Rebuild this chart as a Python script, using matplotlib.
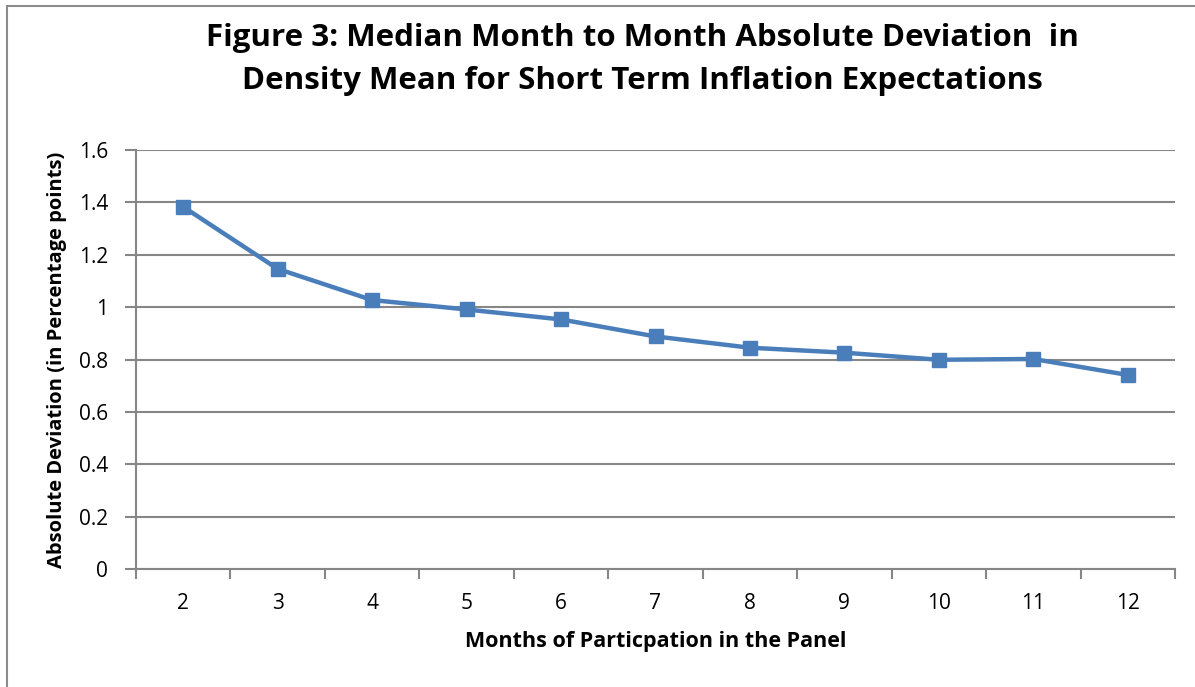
import numpy as np
import matplotlib
matplotlib.use("Agg")
import matplotlib.pyplot as plt
from matplotlib.patches import Rectangle

# data
months = ["2", "3", "4", "5", "6", "7", "8", "9", "10", "11", "12"]
abs_dev = [1.383, 1.146, 1.027, 0.991, 0.953, 0.888, 0.845, 0.826, 0.799, 0.802, 0.741]
y_ticks = [0, 0.2, 0.4, 0.6, 0.8, 1, 1.2, 1.4, 1.6]
y_tick_labels = ["0", "0.2", "0.4", "0.6", "0.8", "1", "1.2", "1.4", "1.6"]
title_lines = ["Figure 3: Median Month to Month Absolute Deviation  in",
               "Density Mean for Short Term Inflation Expectations"]

plt.rcParams['font.family'] = ['Open Sans', 'DejaVu Sans']
grid_col = '#868686'
line_col = '#4a7ebb'

fig = plt.figure(figsize=(11.95, 6.87), dpi=100)
# outer chart frame (cropped at right and bottom in the reference)
fig.patches.append(Rectangle((7/1195, -0.05), 1.2, 1 - 6/687 + 0.05, transform=fig.transFigure,
                             fill=False, edgecolor='#8c8c8c', linewidth=1.5))

ax = fig.add_axes([136/1195, 1 - 569/687, (1175 - 136)/1195, (569 - 150)/687])
x = np.arange(len(months))
ax.plot(x, abs_dev, color=line_col, linewidth=3.2, marker='s', markersize=10,
        markerfacecolor=line_col, markeredgecolor=line_col, zorder=3)

ax.set_xlim(-0.5, len(months) - 0.5)
ax.set_ylim(0, 1.6)
ax.set_yticks(y_ticks)
ax.set_yticklabels(y_tick_labels, fontsize=15)
ax.yaxis.grid(True, color=grid_col, linewidth=1.5)
ax.set_axisbelow(True)

# category axis: tick marks at boundaries, labels in between
ax.set_xticks(np.arange(-0.5, len(months), 1.0))
ax.set_xticklabels([])
ax.set_xticks(x, minor=True)
ax.set_xticklabels(months, minor=True, fontsize=15)
ax.tick_params(axis='x', which='major', length=7, color=grid_col, width=1.5, direction='out')
ax.tick_params(axis='x', which='minor', length=0, pad=17)
ax.tick_params(axis='y', length=8, color=grid_col, width=1.5, pad=12)

for s in ['top', 'right']:
    ax.spines[s].set_visible(False)
for s in ['left', 'bottom']:
    ax.spines[s].set_color(grid_col)
    ax.spines[s].set_linewidth(1.5)

fig.text(642/1195, 1 - 38/687, title_lines[0], ha='center', va='center', fontsize=22.5, fontweight='bold')
fig.text(642/1195, 1 - 81/687, title_lines[1], ha='center', va='center', fontsize=22.5, fontweight='bold')
fig.text(57/1195, 1 - 360/687, "Absolute Deviation (in Percentage points)", rotation=90,
         ha='center', va='center', fontsize=14.5, fontweight='bold')
fig.text(656/1195, 1 - 642/687, "Months of Particpation in the Panel",
         ha='center', va='center', fontsize=15.5, fontweight='bold')

fig.savefig("out.png", dpi=100)
